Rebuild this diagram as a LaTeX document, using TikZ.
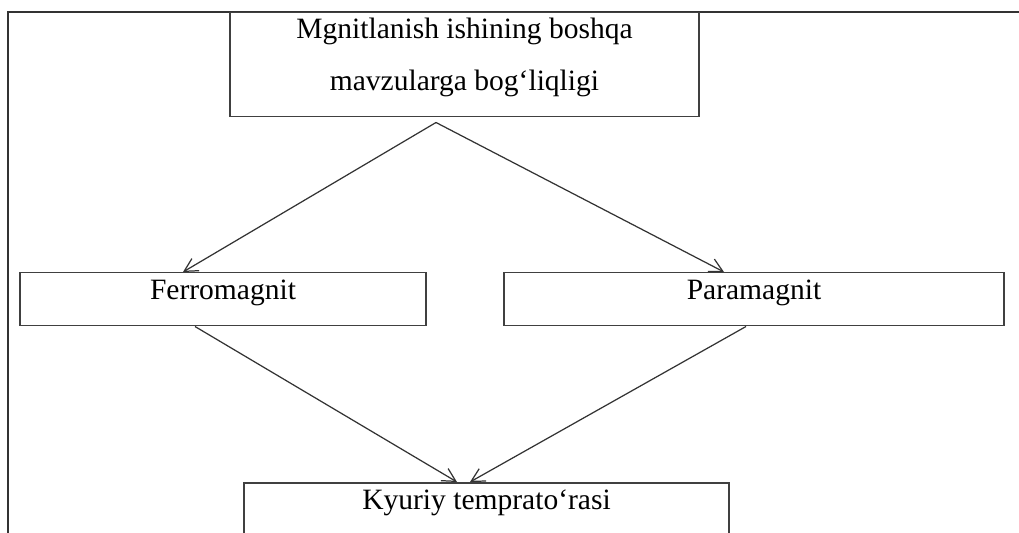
\documentclass[tikz,border=0pt]{standalone}
\usepackage{fontspec}
\setmainfont{Liberation Serif}
\usetikzlibrary{arrows.meta}

\begin{document}
\begin{tikzpicture}
    \tikzset{box/.style = {shape=rectangle, draw=black!75, line width=0.85pt, anchor=north, inner sep=0pt, text height=0.54cm, text depth=0.52cm, font=\fontsize{16.8}{29.6}\selectfont}}
    \tikzset{edge/.style = {->, >={Straight Barb[length=7.5pt,width=8pt]}, draw=black!80, line width=0.7pt}}

    \useasboundingbox (0,0) rectangle (20.38,10.64);
    \draw[black!80, line width=1.1pt] (0.16,-0.2) -- (0.16,10.40) -- (20.6,10.40);

    \node[box, minimum width=9.38cm, text height=0.52cm, text depth=1.56cm] (mag) at (9.29, 10.40) {\begin{tabular}[t]{@{}c@{}}Mgnitlanish ishining boshqa\\ mavzularga bog‘liqligi\end{tabular}};
    \node[box, minimum width=8.12cm] (ferro) at (4.46, 5.20) {Ferromagnit};
    \node[box, minimum width=10cm] (para) at (15.08, 5.20) {Paramagnit};
    \node[box, minimum width=9.70cm] (kyuri) at (9.73, 1.00) {Kyuriy temprato‘rasi};

    \draw[edge] ([xshift=-0.57cm, yshift=-0.1cm]mag.south) -- ([xshift=-0.8cm]ferro.north);
    \draw[edge] ([xshift=-0.57cm, yshift=-0.1cm]mag.south) -- ([xshift=-0.6cm]para.north);
    \draw[edge] ([xshift=-0.56cm]ferro.south) -- ([xshift=-0.59cm]kyuri.north);
    \draw[edge] ([xshift=-0.16cm]para.south) -- ([xshift=-0.33cm]kyuri.north);

\end{tikzpicture}
\end{document}
